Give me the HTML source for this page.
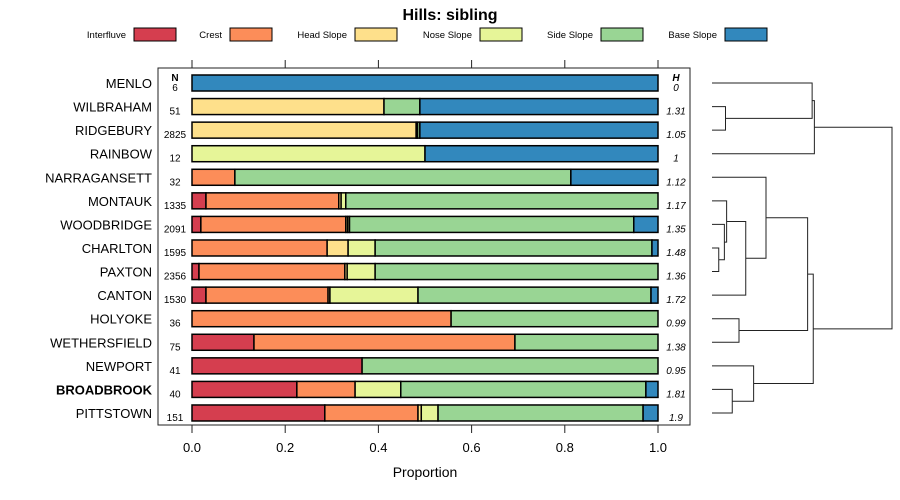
<!DOCTYPE html>
<html><head><meta charset="utf-8">
<style>
body{margin:0;background:#fff;}
svg{display:block;font-family:"Liberation Sans",sans-serif;}
</style></head>
<body>
<svg id="chart" width="900" height="500" viewBox="0 0 900 500">
<text x="450" y="20" text-anchor="middle" font-size="16" font-weight="bold">Hills: sibling</text>
<g id="legend"></g>
<rect x="158" y="68" width="532" height="357" fill="none" stroke="#222" stroke-width="1"/>
<text x="175" y="81" text-anchor="middle" font-size="10" font-weight="bold">N</text>
<text x="676" y="81" text-anchor="middle" font-size="10" font-weight="bold" font-style="italic">H</text>
<g id="axes"></g>
<g id="bars"></g>
<g id="dendro"></g>
<text x="425" y="477" text-anchor="middle" font-size="14">Proportion</text>
</svg>
<script>
const classes = ["Interfluve","Crest","Head Slope","Nose Slope","Side Slope","Base Slope"];
const colors = ["#D53E4F","#FC8D59","#FEE08B","#E6F598","#99D594","#3288BD"];
const series = ["MENLO","WILBRAHAM","RIDGEBURY","RAINBOW","NARRAGANSETT","MONTAUK","WOODBRIDGE","CHARLTON","PAXTON","CANTON","HOLYOKE","WETHERSFIELD","NEWPORT","BROADBROOK","PITTSTOWN"];
const nValues = [6,51,2825,12,32,1335,2091,1595,2356,1530,36,75,41,40,151];
const hValues = ["0","1.31","1.05","1","1.12","1.17","1.35","1.48","1.36","1.72","0.99","1.38","0.95","1.81","1.9"];
const interfluve = [0,0,0,0,0,0.03,0.019,0,0.015,0.03,0,0.133,0.365,0.225,0.285];
const crest      = [0,0,0,0,0.092,0.285,0.311,0.290,0.313,0.262,0.556,0.56,0,0.125,0.20];
const headSlope  = [0,0.412,0.481,0,0,0.005,0.004,0.045,0.005,0.004,0,0,0,0,0.007];
const noseSlope  = [0,0,0.003,0.5,0,0.01,0.004,0.058,0.06,0.189,0,0,0,0.098,0.036];
const sideSlope  = [0,0.077,0.005,0,0.721,0.67,0.61,0.594,0.607,0.50,0.444,0.307,0.635,0.526,0.44];
const baseSlope  = [1,0.511,0.511,0.5,0.187,0,0.052,0.013,0,0.015,0,0,0,0.026,0.032];
const xTicks = [0,0.2,0.4,0.6,0.8,1.0];
const xTickLabels = ["0.0","0.2","0.4","0.6","0.8","1.0"];
// dendrogram merges: [childA, childB, height]; leaves 0..14, merges numbered from 15
const merges = [
 [1,2,0.12],[7,8,0.06],[6,16,0.11],[5,17,0.13],[10,11,0.24],[13,14,0.18],
 [9,18,0.30],[4,21,0.48],[12,20,0.37],[0,15,0.89],[3,24,0.91],[22,19,0.85],[23,26,0.90],[25,27,1.60]
];
const NS="http://www.w3.org/2000/svg";
const x0=192,x1=658,rowTop=83,rowStep=23.57,barH=16;
const xs=v=>x0+v*(x1-x0);
const ys=i=>rowTop+i*rowStep;
function mk(tag,attrs,parent){const e=document.createElementNS(NS,tag);for(const k in attrs)e.setAttribute(k,attrs[k]);parent.appendChild(e);return e;}
const lg=document.getElementById('legend');
const swX=[134,230,355,480,601,725];
classes.forEach((c,i)=>{
 const t=mk('text',{x:swX[i]-8,y:38,'text-anchor':'end','font-size':'9.5'},lg);t.textContent=c;
 
 
 const r=mk('rect',{x:swX[i],y:28,width:42,height:13,fill:colors[i],stroke:'#000','stroke-width':1},lg);
 
 
});
const ax=document.getElementById('axes');
xTicks.forEach((v,i)=>{
 const a=mk('line',{x1:xs(v),x2:xs(v),y1:60,y2:68,stroke:'#222'},ax);
 
 
 const b=mk('line',{x1:xs(v),x2:xs(v),y1:425,y2:433,stroke:'#222'},ax);
 
 
 const t=mk('text',{x:xs(v),y:452,'text-anchor':'middle','font-size':'13'},ax);t.textContent=xTickLabels[i];
 
 
});
const bg=document.getElementById('bars');
const cols=[interfluve,crest,headSlope,noseSlope,sideSlope,baseSlope];
series.forEach((s,i)=>{
 const y=ys(i);
 const lab=mk('text',{x:152,y:y+5,'text-anchor':'end','font-size':'13','font-weight':s==="BROADBROOK"?'bold':'normal'},bg);lab.textContent=s;
 
 
 const n=mk('text',{x:175,y:y+8,'text-anchor':'middle','font-size':'10'},bg);n.textContent=nValues[i];
 
 
 const h=mk('text',{x:676,y:y+8,'text-anchor':'middle','font-size':'10','font-style':'italic'},bg);h.textContent=hValues[i];
 
 
 let cum=0;
 cols.forEach((arr,k)=>{
  const v=arr[i]; if(v<=0)return;
  const r=mk('rect',{x:xs(cum),y:y-barH/2,width:xs(cum+v)-xs(cum),height:barH,fill:colors[k],stroke:'#000','stroke-width':1.5},bg);
  
  
  cum+=v;
 });
});
const dg=document.getElementById('dendro');
const leafX=712,hScale=(892-712)/1.60;
const hx=h=>leafX+h*hScale;
const nodes=series.map((s,i)=>({x:leafX,y:ys(i)}));
merges.forEach(m=>{
 const a=nodes[m[0]],b=nodes[m[1]],X=hx(m[2]);
 const p=mk('path',{d:`M${a.x},${a.y}H${X}V${b.y}H${b.x}`,fill:'none',stroke:'#222','stroke-width':1},dg);
 
 
 nodes.push({x:X,y:(a.y+b.y)/2});
});
</script>
</body></html>
